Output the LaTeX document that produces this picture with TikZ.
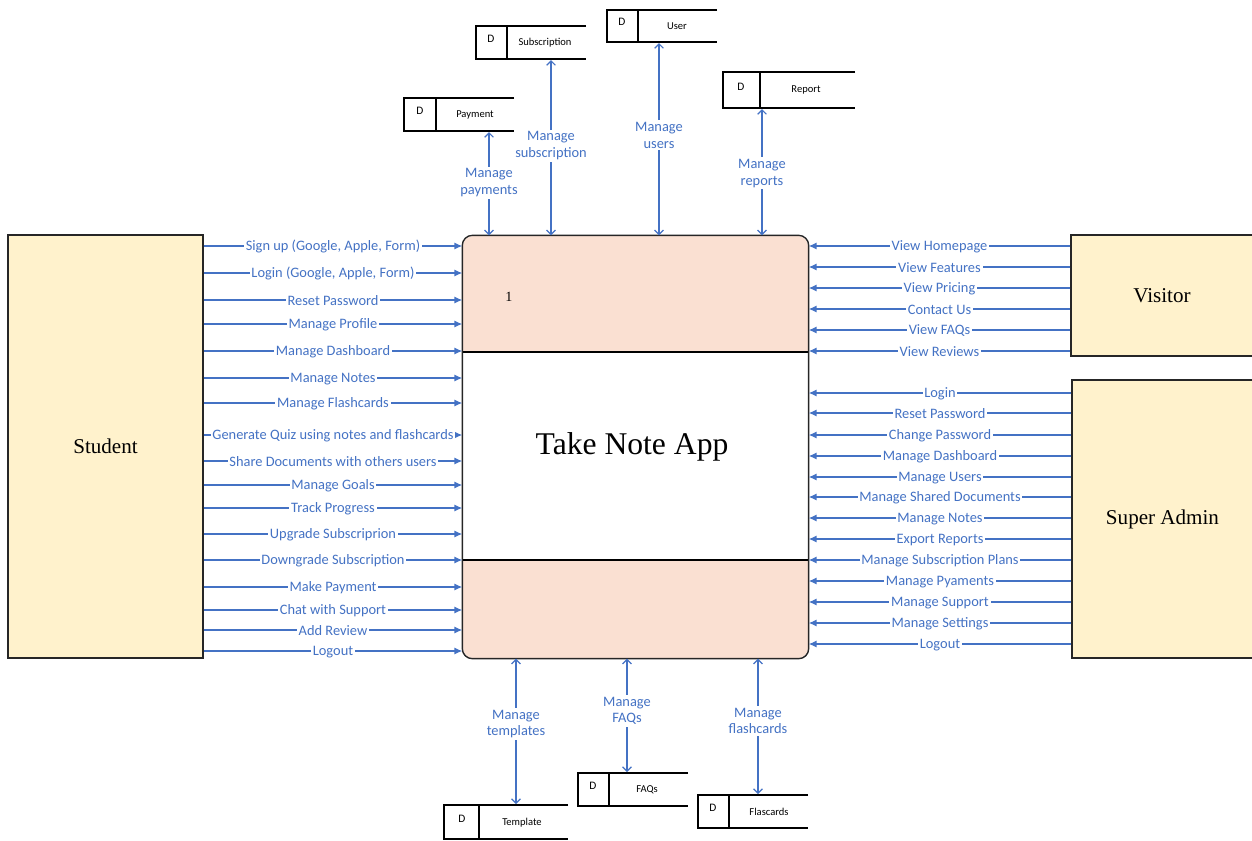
\documentclass[tikz,border=0pt]{standalone}
\usepackage{fontspec}
\setmainfont{Liberation Serif}
\newfontfamily\lblfont{Carlito}
\usetikzlibrary{arrows.meta}

\definecolor{flowblue}{HTML}{4472C4}
\definecolor{entfill}{HTML}{FFF2CC}
\definecolor{procfill}{HTML}{FAE0D2}

\tikzset{
  entity/.style={draw=black!85, line width=0.8pt, fill=entfill, font=\fontsize{12}{14}\selectfont},
  procbox/.style={line width=0.8pt, rounded corners=0.2cm, minimum width=6.9cm, minimum height=8.44cm},
  flow/.style={flowblue, line width=0.7pt, -{Latex[length=4.5pt,width=4pt]}},
  vflow/.style={flowblue, line width=0.7pt, {Straight Barb[length=2.5pt,width=5pt]}-{Straight Barb[length=2.5pt,width=5pt]}},
  lbl/.style={fill=white, inner sep=1pt, text=flowblue, font=\lblfont\fontsize{8.2}{9.6}\selectfont},
  hlbl/.style={lbl, yshift=-0.4pt},
  vlbl/.style={lbl, align=center},
  store/.style={draw=black, line width=0.7pt},
  dlbl/.style={font=\lblfont\fontsize{6.5}{7}\selectfont},
  slbl/.style={font=\lblfont\fontsize{6}{7}\selectfont}
}

\begin{document}
\begin{tikzpicture}[x=0.02cm, y=-0.02cm]
\useasboundingbox (0,0) rectangle (1252,840);

% External entities
\node[entity, minimum width=3.9cm, minimum height=8.46cm] (student) at (105.5,446.5) {Student};
\node[entity, minimum width=3.64cm, minimum height=2.42cm] (visitor) at (1162,295.5) {Visitor};
\node[entity, minimum width=3.62cm, minimum height=5.56cm] (admin) at (1162.5,519) {Super Admin};

% Process
\node[procbox, fill=procfill] (app) at (635.5,447) {};
\fill[white] ([xshift=0.4pt]app.west |- 0,352) rectangle ([xshift=-0.4pt]app.east |- 0,560);
\draw[line width=0.8pt] (app.west |- 0,352) -- (app.east |- 0,352);
\draw[line width=0.8pt] (app.west |- 0,560) -- (app.east |- 0,560);
\draw[procbox, draw=black!85] (app.north west) rectangle (app.south east);
\node[font=\fontsize{8}{9}\selectfont] (pid) at (509,297) {1};
\node[font=\fontsize{18}{20}\selectfont] (title) at (632,447) {Take Note App};

% Data stores (top)
\draw[store] (514,98) -- (404,98) -- (404,131) -- (514,131);
\draw[store] (436,98) -- (436,131);
\node[dlbl] (payment-d) at (420,111) {D};
\node[slbl] (payment) at (475,115) {Payment};
\coordinate (payment-s) at (489,132);

\draw[store] (586,26) -- (476,26) -- (476,59) -- (586,59);
\draw[store] (507,26) -- (507,59);
\node[dlbl] (subscription-d) at (491,39) {D};
\node[slbl] (subscription) at (545,43) {Subscription};
\coordinate (subscription-s) at (551,60);

\draw[store] (717,10) -- (607,10) -- (607,42) -- (717,42);
\draw[store] (638,10) -- (638,42);
\node[dlbl] (user-d) at (622,22) {D};
\node[slbl] (user) at (677,26) {User};
\coordinate (user-s) at (659,43);

\draw[store] (855,72) -- (723,72) -- (723,108) -- (855,108);
\draw[store] (760,72) -- (760,108);
\node[dlbl] (report-d) at (741,87) {D};
\node[slbl] (report) at (806,90) {Report};
\coordinate (report-s) at (762,109);

% Data stores (bottom)
\draw[store] (568,805) -- (444,805) -- (444,839) -- (568,839);
\draw[store] (479,805) -- (479,839);
\node[dlbl] (template-d) at (462,819) {D};
\node[slbl] (template) at (522,823) {Template};
\coordinate (template-n) at (516,804);

\draw[store] (688,773) -- (578,773) -- (578,806) -- (688,806);
\draw[store] (609,773) -- (609,806);
\node[dlbl] (faqs-d) at (593,786) {D};
\node[slbl] (faqs) at (647,790) {FAQs};
\coordinate (faqs-n) at (627,772);

\draw[store] (808,795) -- (698,795) -- (698,828) -- (808,828);
\draw[store] (729,795) -- (729,828);
\node[dlbl] (flashcards-d) at (713,808) {D};
\node[slbl] (flashcards) at (769,812) {Flascards};
\coordinate (flashcards-n) at (758,794);

% Flows to data stores
\draw[vflow] (payment-s) -- node[vlbl, pos=0.49]{Manage\\payments} (app.north -| payment-s);
\draw[vflow] (subscription-s) -- node[vlbl, pos=0.49]{Manage\\subscription} (app.north -| subscription-s);
\draw[vflow] (user-s) -- node[vlbl, pos=0.48]{Manage\\users} (app.north -| user-s);
\draw[vflow] (report-s) -- node[vlbl, pos=0.51]{Manage\\reports} (app.north -| report-s);
\draw[vflow] (app.south -| template-n) -- node[vlbl, pos=0.45]{Manage\\templates} (template-n);
\draw[vflow] (app.south -| faqs-n) -- node[vlbl, pos=0.46]{Manage\\FAQs} (faqs-n);
\draw[vflow] (app.south -| flashcards-n) -- node[vlbl, pos=0.46]{Manage\\flashcards} (flashcards-n);

% Student flows
\draw[flow] (student.east |- 0,246) -- node[hlbl]{Sign up (Google, Apple, Form)} (app.west |- 0,246);
\draw[flow] (student.east |- 0,273) -- node[hlbl]{Login (Google, Apple, Form)} (app.west |- 0,273);
\draw[flow] (student.east |- 0,300) -- node[hlbl]{Reset Password} (app.west |- 0,300);
\draw[flow] (student.east |- 0,324) -- node[hlbl]{Manage Profile} (app.west |- 0,324);
\draw[flow] (student.east |- 0,351) -- node[hlbl]{Manage Dashboard} (app.west |- 0,351);
\draw[flow] (student.east |- 0,378) -- node[hlbl]{Manage Notes} (app.west |- 0,378);
\draw[flow] (student.east |- 0,403) -- node[hlbl]{Manage Flashcards} (app.west |- 0,403);
\draw[flow] (student.east |- 0,435) -- node[hlbl]{Generate Quiz using notes and flashcards} (app.west |- 0,435);
\draw[flow] (student.east |- 0,461) -- node[hlbl]{Share Documents with others users} (app.west |- 0,461);
\draw[flow] (student.east |- 0,485) -- node[hlbl]{Manage Goals} (app.west |- 0,485);
\draw[flow] (student.east |- 0,508) -- node[hlbl]{Track Progress} (app.west |- 0,508);
\draw[flow] (student.east |- 0,534) -- node[hlbl]{Upgrade Subscriprion} (app.west |- 0,534);
\draw[flow] (student.east |- 0,560) -- node[hlbl]{Downgrade Subscription} (app.west |- 0,560);
\draw[flow] (student.east |- 0,587) -- node[hlbl]{Make Payment} (app.west |- 0,587);
\draw[flow] (student.east |- 0,610) -- node[hlbl]{Chat with Support} (app.west |- 0,610);
\draw[flow] (student.east |- 0,630) -- node[hlbl]{Add Review} (app.west |- 0,630);
\draw[flow] (student.east |- 0,651) -- node[hlbl]{Logout} (app.west |- 0,651);

% Visitor flows
\draw[flow] (visitor.west |- 0,246) -- node[hlbl]{View Homepage} (app.east |- 0,246);
\draw[flow] (visitor.west |- 0,267) -- node[hlbl]{View Features} (app.east |- 0,267);
\draw[flow] (visitor.west |- 0,288) -- node[hlbl]{View Pricing} (app.east |- 0,288);
\draw[flow] (visitor.west |- 0,309) -- node[hlbl]{Contact Us} (app.east |- 0,309);
\draw[flow] (visitor.west |- 0,330) -- node[hlbl]{View FAQs} (app.east |- 0,330);
\draw[flow] (visitor.west |- 0,351) -- node[hlbl]{View Reviews} (app.east |- 0,351);

% Super Admin flows
\draw[flow] (admin.west |- 0,393) -- node[hlbl]{Login} (app.east |- 0,393);
\draw[flow] (admin.west |- 0,413) -- node[hlbl]{Reset Password} (app.east |- 0,413);
\draw[flow] (admin.west |- 0,435) -- node[hlbl]{Change Password} (app.east |- 0,435);
\draw[flow] (admin.west |- 0,456) -- node[hlbl]{Manage Dashboard} (app.east |- 0,456);
\draw[flow] (admin.west |- 0,477) -- node[hlbl]{Manage Users} (app.east |- 0,477);
\draw[flow] (admin.west |- 0,497) -- node[hlbl]{Manage Shared Documents} (app.east |- 0,497);
\draw[flow] (admin.west |- 0,518) -- node[hlbl]{Manage Notes} (app.east |- 0,518);
\draw[flow] (admin.west |- 0,539) -- node[hlbl]{Export Reports} (app.east |- 0,539);
\draw[flow] (admin.west |- 0,560) -- node[hlbl]{Manage Subscription Plans} (app.east |- 0,560);
\draw[flow] (admin.west |- 0,581) -- node[hlbl]{Manage Pyaments} (app.east |- 0,581);
\draw[flow] (admin.west |- 0,602) -- node[hlbl]{Manage Support} (app.east |- 0,602);
\draw[flow] (admin.west |- 0,623) -- node[hlbl]{Manage Settings} (app.east |- 0,623);
\draw[flow] (admin.west |- 0,644) -- node[hlbl]{Logout} (app.east |- 0,644);
\end{tikzpicture}
\end{document}
